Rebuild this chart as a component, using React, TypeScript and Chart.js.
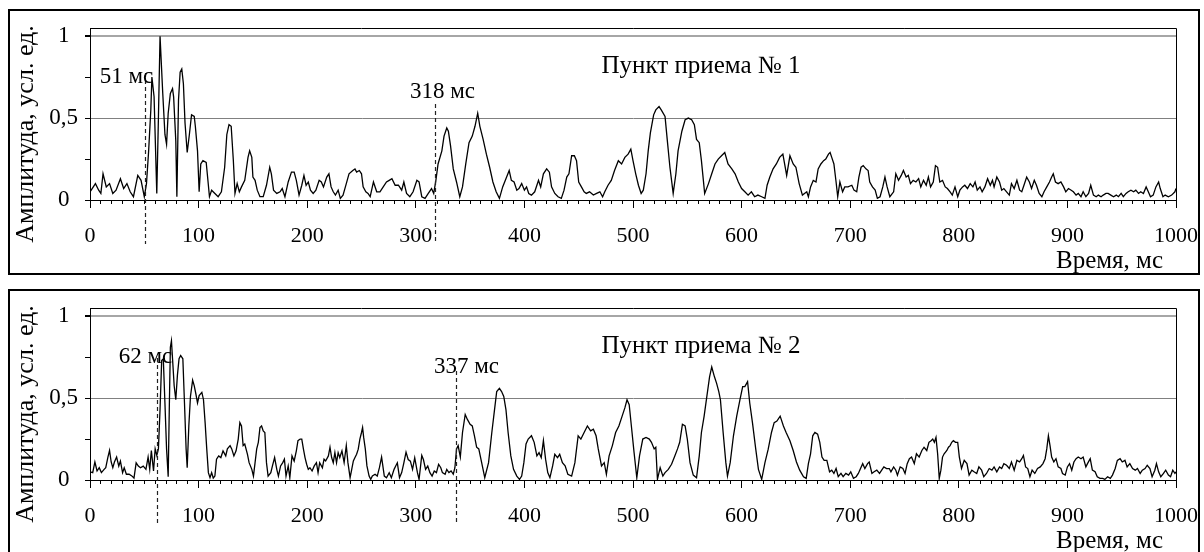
import { useEffect, useRef } from 'react'
import { Chart, registerables } from 'chart.js'

Chart.register(...registerables)

// [время, мс ; амплитуда, усл. ед.] — пункт приема № 1
const trace1: [number, number][] = [
  [0,0.05],[2,0.07],[5,0.1],[8,0.06],[10,0.04],[12,0.16],[15,0.08],[18,0.1],[21,0.04],[24,0.06],[28,0.13],[31,0.07],[34,0.1],[37,0.05],[40,0.02],[44,0.15],[47,0.12],[50,0.02],
  [52,0.1],[54,0.3],[56,0.55],[57,0.75],[59,0.63],[61.5,0.04],[63,0.5],[64.5,1],[67,0.65],[69,0.4],[70.5,0.34],[72,0.53],[74,0.65],[76,0.68],[77,0.63],[79,0.36],[80,0.02],
  [81.5,0.61],[83,0.78],[84.5,0.8],[86,0.71],[87.5,0.47],[89.5,0.29],[91.5,0.4],[93.5,0.52],[96,0.51],[97,0.45],[99,0.3],[100.5,0.05],[102,0.22],[104,0.24],[107,0.23],[108,0.16],
  [110,0.02],[112,0.06],[115,0.04],[118,0.02],[121,0.05],[124,0.2],[126,0.4],[128,0.46],[130,0.45],[132,0.24],[133.5,0.04],[135.5,0.1],[137.5,0.05],[139.5,0.08],[142.5,0.12],
  [145.5,0.26],[147,0.3],[149,0.26],[150,0.14],[152,0.12],[154,0.06],[156.5,0.02],[159.5,0.02],[162.5,0.09],[165.5,0.2],[167,0.16],[169,0.06],[172,0.04],[175,0.05],[177,0.07],
  [179.5,0.02],[182.5,0.11],[185.5,0.17],[188,0.17],[190,0.12],[192.5,0.03],[195,0.09],[197,0.15],[199,0.09],[201,0.11],[203,0.06],[205.5,0.04],[208,0.06],[211,0.12],[213,0.11],
  [215,0.08],[218,0.14],[220,0.16],[222,0.08],[224,0.05],[226,0.03],[228.5,0.06],[230.5,0.01],[233,0.03],[236,0.1],[238.5,0.16],[242,0.18],[244,0.19],[245.5,0.17],[248,0.18],
  [250,0.16],[251.5,0.08],[254,0.05],[256,0.04],[258,0.02],[261,0.11],[264,0.05],[267,0.05],[270,0.08],[273,0.11],[275.5,0.12],[278,0.13],[281,0.09],[284,0.09],[287,0.06],
  [289,0.11],[291.5,0.04],[294.5,0.02],[297.5,0.05],[301,0.12],[303,0.11],[305.5,0.02],[308.5,0.01],[311.5,0.04],[314.5,0.07],[316.5,0.04],[318.5,0.12],[320.5,0.22],[324,0.3],
  [326,0.39],[328.5,0.44],[330,0.42],[332,0.33],[334.5,0.19],[337.5,0.11],[340.5,0.02],[343,0.08],[346,0.22],[349,0.35],[352,0.39],[354.5,0.45],[357,0.53],[359,0.45],[362,0.37],
  [365,0.28],[368,0.2],[371,0.11],[374,0.05],[377,0.01],[380,0.08],[383,0.13],[386,0.18],[388,0.12],[390.5,0.11],[393,0.06],[395,0.07],[397.5,0.1],[400,0.06],[402,0.08],[404,0.04],
  [406.5,0.03],[409.5,0.05],[413,0.12],[415,0.08],[417.5,0.16],[420.5,0.19],[423,0.17],[425,0.08],[428,0.04],[431,0.02],[434,0.01],[436.5,0.06],[439,0.14],[441,0.16],[443.5,0.27],
  [446,0.27],[448,0.24],[450,0.11],[452.5,0.08],[455,0.05],[457,0.04],[460,0.05],[463.5,0.03],[466.5,0.04],[469.5,0.05],[472,0.02],[474,0.05],[477,0.09],[480,0.12],[483,0.18],
  [486.5,0.24],[489.5,0.22],[492.5,0.26],[495.5,0.28],[498,0.31],[500,0.24],[502.5,0.16],[505,0.09],[507.5,0.04],[509.5,0.06],[512,0.16],[514,0.3],[516,0.41],[519,0.52],[521,0.55],
  [524,0.57],[526,0.55],[529.5,0.51],[531.5,0.37],[534,0.2],[537,0.04],[539.5,0.16],[541.5,0.3],[545,0.42],[548,0.49],[551,0.5],[554,0.49],[556.5,0.46],[558.5,0.37],[561,0.35],
  [563,0.24],[566,0.04],[569.5,0.1],[572.5,0.16],[575.5,0.22],[578.5,0.25],[581.5,0.27],[584.5,0.29],[587.5,0.22],[591,0.19],[594,0.16],[597,0.11],[600,0.07],[603,0.05],[606,0.03],
  [609,0.05],[612,0.02],[615,0.03],[618.5,0.02],[621.5,0.01],[623.5,0.09],[626,0.14],[629,0.19],[632,0.22],[635,0.26],[638,0.28],[641.5,0.15],[644.5,0.27],[647.5,0.22],[650,0.2],
  [653,0.1],[656,0.03],[660,0.05],[661.5,0.02],[663.5,0.08],[666,0.12],[668.5,0.11],[670.5,0.19],[673,0.22],[675.5,0.24],[677.5,0.25],[680,0.28],[681.5,0.29],[683,0.26],[685,0.22],
  [687,0.11],[688.5,0.02],[690.5,0.11],[693,0.05],[695,0.08],[698,0.08],[701.5,0.09],[703.5,0.06],[706,0.05],[708,0.14],[710,0.2],[712,0.21],[714.5,0.19],[716.5,0.18],[718,0.11],
  [720.5,0.08],[723,0.06],[725,0.01],[727.5,0.02],[730,0.08],[732,0.14],[734,0.08],[736.5,0.02],[740,0.05],[742,0.16],[744.5,0.12],[747,0.15],[749,0.18],[751.5,0.14],[753.5,0.15],
  [755.5,0.1],[758,0.12],[760.5,0.11],[763,0.13],[765,0.08],[767.5,0.12],[770,0.09],[772,0.14],[774,0.08],[776.5,0.11],[778.5,0.21],[780.5,0.2],[782.5,0.11],[785,0.12],[787.5,0.08],
  [789.5,0.07],[792,0.05],[794,0.03],[796.5,0.08],[799,0.02],[801,0.06],[803.5,0.08],[805.5,0.09],[808,0.07],[810.5,0.1],[813,0.08],[815,0.11],[817,0.06],[819.5,0.08],[821.5,0.05],
  [824,0.08],[826.5,0.13],[829,0.09],[831,0.12],[832.5,0.08],[835,0.14],[837.5,0.11],[839.5,0.06],[841.5,0.07],[844,0.05],[846.5,0.03],[848.5,0.1],[851,0.07],[853.5,0.12],[856,0.06],
  [858,0.05],[860,0.09],[862.5,0.14],[865,0.11],[867,0.07],[869.5,0.12],[871.5,0.09],[874,0.04],[876.5,0.02],[878.5,0.05],[881,0.08],[883.5,0.11],[885.5,0.14],[887,0.16],[889,0.11],
  [891.5,0.1],[894,0.11],[896.5,0.08],[898.5,0.05],[901,0.07],[903.5,0.06],[905.5,0.05],[908,0.03],[910,0.04],[912.5,0.02],[914.5,0.05],[917,0.02],[919.5,0.04],[921.5,0.09],[924,0.03],
  [926.5,0.02],[928.5,0.03],[931,0.02],[933,0.03],[935.5,0.04],[937.5,0.04],[940,0.03],[942.5,0.02],[945,0.03],[947,0.02],[949.5,0.04],[951.5,0.02],[954,0.04],[956,0.05],[958.5,0.06],
  [961,0.05],[963,0.06],[965.5,0.04],[967.5,0.05],[970,0.04],[972.5,0.08],[974.5,0.05],[976.5,0.02],[979,0.03],[981.5,0.08],[984,0.11],[985.5,0.07],[988,0.02],[990,0.03],[993,0.02],
  [996,0.03],[999,0.05],[1000,0.07],
]

// пункт приема № 2
const trace2: [number, number][] = [
  [0,0.05],[2.5,0.045],[4.5,0.11],[6.5,0.055],[8.5,0.075],[10.5,0.045],[13,0.065],[14.5,0.075],[16.5,0.14],[18,0.18],[19.5,0.11],[21,0.075],[22.5,0.11],[24.5,0.14],[26.5,0.085],
  [28,0.115],[30,0.045],[31.5,0.075],[33.5,0.035],[36,0.035],[38.5,0.025],[40.5,0.012],[42.5,0.105],[44.5,0.085],[46.5,0.075],[49,0.085],[51.5,0.065],[53.5,0.14],[55,0.065],
  [56.5,0.18],[58.5,0.055],[60,0.19],[61.5,0.15],[63,0.19],[64.5,0.43],[66,0.73],[67.5,0.74],[69,0.47],[70.5,0.19],[72,0.02],[73,0.43],[74,0.81],[75,0.85],[76,0.74],[77.5,0.575],
  [79,0.49],[80.5,0.64],[82,0.74],[83.5,0.76],[85.5,0.74],[87,0.47],[88.5,0.19],[89.5,0.075],[91,0.33],[92.5,0.51],[94.5,0.61],[96,0.575],[97.5,0.525],[99,0.47],[100.5,0.515],
  [103,0.535],[104.5,0.49],[106,0.35],[107.5,0.19],[109,0.045],[110.5,0.014],[112,0.045],[113.5,0.012],[115,0.024],[116.5,0.127],[118.5,0.147],[120.5,0.137],[122.5,0.178],
  [125,0.147],[126.5,0.19],[129,0.21],[130.5,0.19],[132.5,0.147],[134.5,0.178],[136.5,0.25],[138,0.35],[139.5,0.33],[141,0.21],[142.5,0.22],[145,0.157],[146.5,0.106],[149,0.065],
  [150.5,0.024],[152,0.106],[153.5,0.19],[155,0.23],[156.5,0.32],[158,0.33],[159.5,0.3],[161,0.29],[162.5,0.106],[164,0.024],[166.5,0.045],[168,0.086],[170,0.137],[172,0.065],
  [173.5,0.024],[175.5,0.086],[177.5,0.106],[179,0.127],[180.5,0.024],[182.5,0.086],[184,0.014],[186,0.147],[188,0.116],[190,0.178],[191.5,0.24],[193.5,0.25],[195,0.25],
  [196.5,0.19],[198,0.137],[199.5,0.096],[201,0.065],[202.5,0.075],[204.5,0.055],[206.5,0.086],[208.5,0.106],[210,0.045],[211.5,0.106],[214,0.075],[215.5,0.127],[217,0.116],
  [219.5,0.147],[221,0.2],[222.5,0.137],[224,0.106],[225.5,0.167],[227,0.106],[228.5,0.167],[230,0.137],[232,0.178],[234,0.106],[236,0.21],[237.5,0.106],[239.5,0.014],[241,0.065],
  [242.5,0.116],[244,0.137],[245.5,0.157],[247,0.188],[248.5,0.25],[250,0.29],[251,0.32],[252,0.26],[253.5,0.19],[255,0.086],[257,0.024],[258.5,0.004],[260,0.024],[262.5,0.035],
  [264.5,0.024],[266.5,0.075],[268.5,0.14],[271,0.024],[273,0.014],[275.5,0.045],[277.5,0.014],[280,0.065],[281.5,0.085],[283,0.105],[285,0.014],[287,0.045],[289,0.105],[291,0.17],
  [293,0.125],[295,0.115],[297,0.065],[299,0.135],[301.5,0.045],[303,0.004],[305.5,0.15],[307,0.125],[309,0.065],[311,0.085],[313,0.045],[315,0.024],[317,0.055],[319,0.045],
  [321,0.096],[323,0.075],[324.5,0.045],[327,0.035],[328.5,0.065],[330.5,0.045],[332.5,0.055],[334.5,0.035],[336,0.075],[337.5,0.19],[339,0.21],[341,0.14],[343,0.29],[345.5,0.4],
  [347.5,0.37],[350,0.34],[352,0.33],[354,0.27],[356,0.2],[358,0.19],[360.5,0.11],[363.5,0.014],[367,0.106],[370,0.29],[372.5,0.43],[374.5,0.54],[377,0.56],[379,0.54],[381,0.51],
  [383,0.43],[385,0.29],[387.5,0.147],[390,0.065],[393,0.024],[395.5,0.004],[397.5,0.024],[399.5,0.106],[401.5,0.22],[403.5,0.25],[406.5,0.27],[409,0.23],[411.5,0.147],
  [413.5,0.167],[415.5,0.137],[417.5,0.24],[419.5,0.127],[421.5,0.045],[423.5,0.014],[426,0.086],[428,0.157],[430.5,0.137],[432.5,0.157],[435,0.106],[437.5,0.086],[440,0.035],
  [443.5,0.024],[446.5,0.106],[449.5,0.27],[452,0.25],[455,0.29],[458,0.33],[461,0.3],[463.5,0.31],[466,0.27],[468,0.19],[471,0.086],[473.5,0.106],[475.5,0.035],[478,0.147],
  [481,0.21],[484,0.29],[487,0.33],[490,0.39],[492.5,0.44],[494.5,0.49],[496.5,0.46],[498.5,0.33],[501,0.167],[503.5,0.014],[506,0.147],[509,0.25],[512,0.26],[515,0.25],[517,0.23],
  [519.5,0.19],[521,0.2],[522.5,0.004],[525,0.075],[527.5,0.024],[529.5,0.045],[532.5,0.065],[535.5,0.096],[538.5,0.147],[541,0.19],[543,0.23],[545.5,0.34],[548,0.33],[550,0.25],
  [552.5,0.106],[555.5,0.03],[558.5,0.014],[561,0.147],[563,0.29],[565.5,0.39],[568,0.51],[570.5,0.63],[572.5,0.69],[575,0.63],[577,0.59],[579,0.54],[580.5,0.49],[583,0.29],
  [585.5,0.106],[587,0.024],[589.5,0.106],[592.5,0.27],[595.5,0.39],[598.5,0.49],[601,0.57],[603,0.57],[605.5,0.6],[607.5,0.47],[610,0.35],[613,0.19],[615.5,0.065],[618.5,0.004],
  [621.5,0.106],[624.5,0.188],[627.5,0.29],[630,0.35],[632.5,0.36],[635.5,0.39],[638.5,0.33],[641,0.29],[644.5,0.24],[647.5,0.18],[650.5,0.11],[653.5,0.06],[657,0.02],[659.5,0.01],
  [661.5,0.1],[663.5,0.16],[665.5,0.27],[667.5,0.29],[670,0.28],[672,0.23],[674,0.14],[676,0.12],[678.5,0.12],[681,0.05],[683,0.06],[685,0.04],[687,0.07],[689,0.02],[691.5,0.04],
  [693.5,0.02],[696,0.04],[698.5,0.03],[700.5,0.05],[703,0.01],[705.5,0.02],[707.5,0.04],[709.5,0.07],[711.5,0.1],[713.5,0.07],[716,0.1],[717.5,0.11],[720,0.04],[722,0.05],
  [724.5,0.06],[727,0.04],[729,0.06],[731,0.08],[733.5,0.07],[736,0.07],[737.5,0.05],[740,0.08],[742,0.06],[743.5,0.03],[746,0.08],[748.5,0.07],[750.5,0.04],[752.5,0.1],[754.5,0.13],
  [756.5,0.14],[759,0.1],[761,0.16],[763.5,0.14],[766,0.18],[768,0.2],[770.5,0.18],[772.5,0.23],[774.5,0.24],[776,0.25],[777.5,0.23],[779,0.26],[780.5,0.16],[782,0.01],[783.5,0.06],
  [785,0.14],[786.5,0.16],[789,0.18],[790.5,0.2],[792,0.21],[793.5,0.23],[795,0.24],[797,0.23],[799,0.23],[800.5,0.14],[802.5,0.07],[805,0.12],[807.5,0.1],[809.5,0.03],[812,0.06],
  [814,0.05],[816.5,0.04],[818.5,0.08],[821,0.06],[823,0.02],[825.5,0.04],[828,0.07],[830.5,0.06],[832.5,0.08],[835,0.05],[837.5,0.08],[839.5,0.07],[841.5,0.1],[844,0.09],
  [846.5,0.07],[848.5,0.11],[851,0.06],[853.5,0.12],[856,0.11],[858,0.13],[859.5,0.15],[861.5,0.08],[863.5,0.07],[865.5,0.02],[867.5,0.06],[870,0.04],[872.5,0.07],[875,0.08],
  [877.5,0.1],[879.5,0.13],[881,0.19],[882.5,0.27],[884,0.21],[885.5,0.14],[887.5,0.11],[889.5,0.13],[891.5,0.08],[894,0.07],[895.5,0.04],[898,0.03],[900,0.08],[902,0.1],[904,0.06],
  [906,0.11],[908,0.13],[910,0.14],[912.5,0.13],[914.5,0.14],[917,0.08],[918.5,0.1],[921,0.13],[923,0.06],[925.5,0.05],[927.5,0.02],[930,0.01],[932.5,0.01],[934.5,0.004],[937,0.02],
  [939.5,0.01],[941.5,0.03],[944,0.07],[946,0.12],[948.5,0.13],[950.5,0.11],[953,0.12],[955,0.08],[957.5,0.1],[960,0.07],[962.5,0.06],[964.5,0.07],[967,0.04],[969,0.06],
  [971.5,0.07],[973.5,0.09],[976,0.07],[978,0.02],[980.5,0.06],[982,0.1],[984,0.05],[986,0.02],[988.5,0.04],[990.5,0.06],[993,0.03],[995,0.02],[997,0.06],[999,0.04],[1000,0.05],
]

const markerTimes1 = [51, 318]
const markerLabels1 = ['51 мс', '318 мс']
const markerTimes2 = [62, 337]
const markerLabels2 = ['62 мс', '337 мс']

const yTickValues = [0, 0.5, 1]
const yTickLabels = ['0', '0,5', '1']

const FONT = '"Liberation Serif", "Times New Roman", serif'

// подписи, пунктир, рамка области построения
const annotPlugin = {
  id: 'annot',
  afterDraw(chart: any, _args: any, opts: any) {
    const { ctx, chartArea } = chart
    const xs = chart.scales.x
    ctx.save()
    ctx.strokeStyle = '#000'
    ctx.lineWidth = 1
    ctx.beginPath()
    ctx.moveTo(chartArea.left, chartArea.top + 0.5)
    ctx.lineTo(chartArea.right + 0.5, chartArea.top + 0.5)
    ctx.lineTo(chartArea.right + 0.5, chartArea.bottom)
    ctx.stroke()

    ctx.fillStyle = '#000'
    ctx.font = `25px ${FONT}`
    ctx.textAlign = 'center'
    ctx.textBaseline = 'alphabetic'
    ctx.fillText(opts.title, 691, 62)

    ctx.textAlign = 'right'
    ctx.fillText('Время, мс', 1153, 257)

    ctx.save()
    ctx.translate(23, 123)
    ctx.rotate(-Math.PI / 2)
    ctx.textAlign = 'center'
    ctx.font = `26px ${FONT}`
    ctx.fillText('Амплитуда, усл. ед.', 0, 0)
    ctx.restore()

    ctx.font = `23px ${FONT}`
    ctx.textAlign = 'center'
    opts.times.forEach((t: number, i: number) => {
      const px = Math.round(xs.getPixelForValue(t)) + 0.5
      ctx.strokeStyle = '#222'
      ctx.setLineDash([4, 3])
      ctx.lineWidth = 1.2
      ctx.beginPath()
      ctx.moveTo(px, opts.lineTop[i])
      ctx.lineTo(px, 233)
      ctx.stroke()
      ctx.setLineDash([])
      ctx.fillText(opts.labels[i], px + opts.labelDx[i], opts.labelY[i])
    })
    ctx.restore()
  },
}

function Panel({ trace, times, labels, title, top, look }: any) {
  const canvasRef = useRef<HTMLCanvasElement | null>(null)
  const chartRef = useRef<Chart | null>(null)

  useEffect(() => {
    if (!canvasRef.current) return
    const ctx = canvasRef.current.getContext('2d')!

    chartRef.current = new Chart(ctx, {
      type: 'line',
      data: {
        datasets: [
          {
            data: trace.map(([t, a]: [number, number]) => ({ x: t, y: a })),
            borderColor: '#000',
            borderWidth: 1.3,
            pointRadius: 0,
            tension: 0,
          },
        ],
      },
      options: {
        animation: false,
        responsive: true,
        maintainAspectRatio: false,
        events: [],
        layout: { padding: { top: 17, right: 22, left: 0, bottom: 0 } },
        plugins: {
          legend: { display: false },
          tooltip: { enabled: false },
          annot: { title, times, labels, ...look },
        } as any,
        scales: {
          x: {
            type: 'linear',
            min: 0,
            max: 1000,
            weight: 1,
            afterFit: (s: any) => { s.height = 73; s.paddingLeft = 0; s.paddingRight = 0 },
            grid: { drawOnChartArea: false, tickLength: 8, tickColor: '#000' },
            border: { display: true, color: '#000', width: 1 },
            ticks: {
              stepSize: 100,
              color: '#000',
              font: { family: FONT, size: 22 },
              padding: 15,
              maxRotation: 0,
              autoSkip: false,
              callback: (v: any) => String(v),
            },
          },
          xm: {
            type: 'linear',
            position: 'bottom',
            min: 0,
            max: 1000,
            weight: 0,
            afterFit: (s: any) => { s.height = 0; s.paddingLeft = 0; s.paddingRight = 0 },
            grid: { drawOnChartArea: false, tickLength: 4, tickColor: '#000' },
            border: { display: false },
            ticks: { stepSize: 10, display: false, autoSkip: false },
          },
          y: {
            min: 0,
            max: 1.05,
            afterFit: (s: any) => { s.width = 80; s.paddingTop = 0; s.paddingBottom = 0 },
            grid: {
              color: (c: any) => (c.tick && (c.tick.value === 0.5 || c.tick.value === 1) ? (c.tick.value === 1 ? '#a6a6a6' : '#808080') : 'rgba(0,0,0,0)'),
              lineWidth: (c: any) => (c.tick && c.tick.value === 1 ? 2 : 1),
              tickLength: 5,
              tickColor: '#000',
            },
            border: { display: true, color: '#000', width: 1 },
            ticks: {
              stepSize: 0.25,
              includeBounds: false,
              crossAlign: 'center',
              padding: 7,
              color: '#000',
              font: { family: FONT, size: 23 },
              callback: (v: any) => {
                const i = yTickValues.indexOf(Number(v))
                return i >= 0 ? yTickLabels[i] : ''
              },
            },
          },
        },
      },
      plugins: [annotPlugin],
    } as any)

    return () => chartRef.current?.destroy()
  }, [])

  return (
    <div
      style={{
        position: 'absolute',
        left: 8,
        top,
        width: 1192,
        height: 266,
        boxSizing: 'border-box',
        border: '2px solid #000',
        background: '#fff',
      }}
    >
      <div style={{ position: 'relative', width: 1188, height: 262 }}>
        <canvas ref={canvasRef} />
      </div>
    </div>
  )
}

export default function App() {
  return (
    <div style={{ position: 'fixed', left: 0, top: 0, width: 1204, height: 552, overflow: 'hidden', background: '#fff' }}>
      <Panel
        trace={trace1}
        times={markerTimes1}
        labels={markerLabels1}
        title="Пункт приема № 1"
        top={9}
        look={{ lineTop: [62, 93], labelDx: [-19, 7], labelY: [72, 87] }}
      />
      <Panel
        trace={trace2}
        times={markerTimes2}
        labels={markerLabels2}
        title="Пункт приема № 2"
        top={289}
        look={{ lineTop: [67, 80], labelDx: [-12, 10], labelY: [72, 82] }}
      />
    </div>
  )
}
